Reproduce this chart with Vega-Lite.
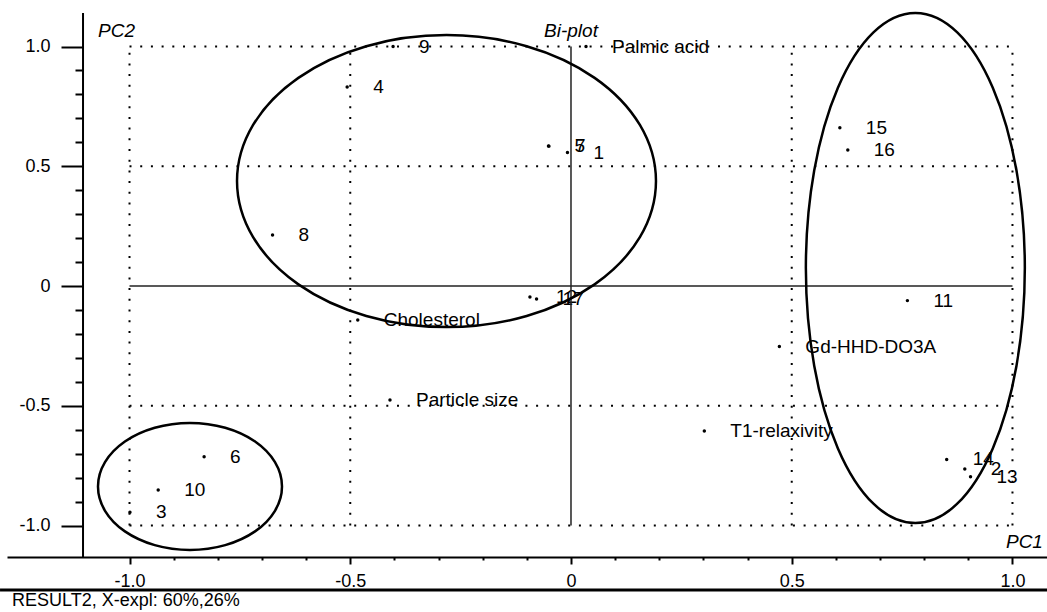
{
  "$schema": "https://vega.github.io/schema/vega-lite/v6.json",
  "width": 1040,
  "height": 577,
  "autosize": {"type": "none"},
  "padding": {"left": 7, "top": 13, "right": 0, "bottom": 22},
  "background": "white",
  "config": {
    "view": {"stroke": null},
    "font": "Liberation Sans",
    "text": {"font": "Liberation Sans", "fontSize": 19, "color": "black"}
  },
  "resolve": {"axis": {"x": "independent", "y": "independent"}},
  "datasets": {
    "pts": [
      {"label": "1", "pc1": -0.008, "pc2": 0.557},
      {"label": "2", "pc1": 0.892, "pc2": -0.764},
      {"label": "3", "pc1": -0.999, "pc2": -0.945},
      {"label": "4", "pc1": -0.507, "pc2": 0.831},
      {"label": "5", "pc1": -0.051, "pc2": 0.585},
      {"label": "6", "pc1": -0.831, "pc2": -0.713},
      {"label": "7", "pc1": -0.050, "pc2": 0.584},
      {"label": "8", "pc1": -0.676, "pc2": 0.213},
      {"label": "9", "pc1": -0.403, "pc2": 1.0},
      {"label": "10", "pc1": -0.935, "pc2": -0.852},
      {"label": "11", "pc1": 0.762, "pc2": -0.061},
      {"label": "12", "pc1": -0.093, "pc2": -0.046},
      {"label": "13", "pc1": 0.905, "pc2": -0.796},
      {"label": "14", "pc1": 0.851, "pc2": -0.724},
      {"label": "15", "pc1": 0.609, "pc2": 0.661},
      {"label": "16", "pc1": 0.627, "pc2": 0.568},
      {"label": "17", "pc1": -0.078, "pc2": -0.054},
      {"label": "Palmic acid", "pc1": 0.034, "pc2": 1.0},
      {"label": "Cholesterol", "pc1": -0.483, "pc2": -0.142},
      {"label": "Particle size", "pc1": -0.41, "pc2": -0.476},
      {"label": "Gd-HHD-DO3A", "pc1": 0.472, "pc2": -0.253},
      {"label": "T1-relaxivity", "pc1": 0.302, "pc2": -0.605}
    ],
    "grid": [
      {"x1": -1, "x2": 1, "y1": 1, "y2": 1},
      {"x1": -1, "x2": 1, "y1": 0.5, "y2": 0.5},
      {"x1": -1, "x2": 1, "y1": -0.5, "y2": -0.5},
      {"x1": -1, "x2": 1, "y1": -1, "y2": -1},
      {"x1": -1, "x2": -1, "y1": -1, "y2": 1},
      {"x1": -0.5, "x2": -0.5, "y1": -1, "y2": 1},
      {"x1": 0.5, "x2": 0.5, "y1": -1, "y2": 1},
      {"x1": 1, "x2": 1, "y1": -1, "y2": 1}
    ],
    "cross": [
      {"x1": -1, "x2": 1, "y1": 0, "y2": 0},
      {"x1": 0, "x2": 0, "y1": -1, "y2": 1}
    ],
    "yline": [
      {"x1": -1.1053, "y1": -1.1315, "y2": 1.1399}
    ],
    "frame": [
      {"x1": -1.2933, "x2": 1.0782, "y1": -1.2693}
    ],
    "ell": [
      {"g": "A", "i": 0, "x": 0.1925, "y": 0.438},
      {"g": "A", "i": 1, "x": 0.1564, "y": 0.6713},
      {"g": "A", "i": 2, "x": 0.0535, "y": 0.8691},
      {"g": "A", "i": 3, "x": -0.1004, "y": 1.0012},
      {"g": "A", "i": 4, "x": -0.282, "y": 1.0476},
      {"g": "A", "i": 5, "x": -0.4636, "y": 1.0012},
      {"g": "A", "i": 6, "x": -0.6175, "y": 0.8691},
      {"g": "A", "i": 7, "x": -0.7204, "y": 0.6713},
      {"g": "A", "i": 8, "x": -0.7565, "y": 0.438},
      {"g": "A", "i": 9, "x": -0.7204, "y": 0.2047},
      {"g": "A", "i": 10, "x": -0.6175, "y": 0.0069},
      {"g": "A", "i": 11, "x": -0.4636, "y": -0.1252},
      {"g": "A", "i": 12, "x": -0.282, "y": -0.1716},
      {"g": "A", "i": 13, "x": -0.1004, "y": -0.1252},
      {"g": "A", "i": 14, "x": 0.0535, "y": 0.0069},
      {"g": "A", "i": 15, "x": 0.1564, "y": 0.2047},
      {"g": "B", "i": 0, "x": 1.028, "y": 0.075},
      {"g": "B", "i": 1, "x": 1.0091, "y": 0.4826},
      {"g": "B", "i": 2, "x": 0.9554, "y": 0.8281},
      {"g": "B", "i": 3, "x": 0.8749, "y": 1.059},
      {"g": "B", "i": 4, "x": 0.78, "y": 1.14},
      {"g": "B", "i": 5, "x": 0.6851, "y": 1.059},
      {"g": "B", "i": 6, "x": 0.6046, "y": 0.8281},
      {"g": "B", "i": 7, "x": 0.5509, "y": 0.4826},
      {"g": "B", "i": 8, "x": 0.532, "y": 0.075},
      {"g": "B", "i": 9, "x": 0.5509, "y": -0.3326},
      {"g": "B", "i": 10, "x": 0.6046, "y": -0.6781},
      {"g": "B", "i": 11, "x": 0.6851, "y": -0.909},
      {"g": "B", "i": 12, "x": 0.78, "y": -0.99},
      {"g": "B", "i": 13, "x": 0.8749, "y": -0.909},
      {"g": "B", "i": 14, "x": 0.9554, "y": -0.6781},
      {"g": "B", "i": 15, "x": 1.0091, "y": -0.3326},
      {"g": "C", "i": 0, "x": -0.6546, "y": -0.837},
      {"g": "C", "i": 1, "x": -0.6705, "y": -0.7355},
      {"g": "C", "i": 2, "x": -0.7156, "y": -0.6495},
      {"g": "C", "i": 3, "x": -0.7832, "y": -0.5921},
      {"g": "C", "i": 4, "x": -0.863, "y": -0.5719},
      {"g": "C", "i": 5, "x": -0.9428, "y": -0.5921},
      {"g": "C", "i": 6, "x": -1.0104, "y": -0.6495},
      {"g": "C", "i": 7, "x": -1.0555, "y": -0.7355},
      {"g": "C", "i": 8, "x": -1.0714, "y": -0.837},
      {"g": "C", "i": 9, "x": -1.0555, "y": -0.9385},
      {"g": "C", "i": 10, "x": -1.0104, "y": -1.0245},
      {"g": "C", "i": 11, "x": -0.9428, "y": -1.0819},
      {"g": "C", "i": 12, "x": -0.863, "y": -1.1021},
      {"g": "C", "i": 13, "x": -0.7832, "y": -1.0819},
      {"g": "C", "i": 14, "x": -0.7156, "y": -1.0245},
      {"g": "C", "i": 15, "x": -0.6705, "y": -0.9385}
    ]
  },
  "layer": [
    {
      "data": {"name": "pts"},
      "mark": {"type": "point", "filled": true, "size": 12, "color": "black", "opacity": 1},
      "encoding": {
        "x": {
          "field": "pc1", "type": "quantitative",
          "scale": {"domain": [-1.2775, 1.0782], "nice": false, "zero": false},
          "axis": {
            "orient": "bottom",
            "title": null,
            "grid": false,
            "offset": -33,
            "values": [-1, -0.5, 0, 0.5, 1],
            "domainColor": "black", "domainWidth": 2,
            "tickColor": "black", "tickWidth": 2, "tickSize": 7,
            "labelExpr": "abs(datum.value) < 0.001 ? '0' : (datum.value < 0 ? '-' : '') + format(abs(datum.value), '.1f')",
            "labelFont": "Liberation Sans", "labelFontSize": 18, "labelColor": "black",
            "labelPadding": 8, "labelFlush": false, "labelOverlap": false
          }
        },
        "y": {
          "field": "pc2", "type": "quantitative",
          "scale": {"domain": [-1.2693, 1.1399], "nice": false, "zero": false},
          "axis": {
            "orient": "left",
            "title": null,
            "grid": false,
            "offset": -76,
            "domain": false,
            "values": [-1, -0.5, 0, 0.5, 1],
            "tickColor": "black", "tickWidth": 2, "tickSize": 22,
            "labelExpr": "abs(datum.value) < 0.001 ? '0' : (datum.value < 0 ? '-' : '') + format(abs(datum.value), '.1f')",
            "labelFont": "Liberation Sans", "labelFontSize": 18, "labelColor": "black",
            "labelPadding": 11, "labelFlush": false, "labelOverlap": false
          }
        }
      }
    },
    {
      "data": {"name": "pts"},
      "mark": {"type": "text", "align": "left", "baseline": "middle", "dx": 26, "fontSize": 19},
      "encoding": {
        "x": {
          "field": "pc1", "type": "quantitative",
          "axis": {
            "orient": "bottom", "title": null, "grid": false, "domain": false, "labels": false,
            "offset": -33,
            "values": [-0.9, -0.8, -0.7, -0.6, -0.4, -0.3, -0.2, -0.1, 0.1, 0.2, 0.3, 0.4, 0.6, 0.7, 0.8, 0.9],
            "tickColor": "black", "tickWidth": 2, "tickSize": 3
          }
        },
        "y": {
          "field": "pc2", "type": "quantitative",
          "axis": {
            "orient": "left", "title": null, "grid": false, "domain": false, "labels": false,
            "offset": -76,
            "values": [-0.9, -0.8, -0.7, -0.6, -0.4, -0.3, -0.2, -0.1, 0.1, 0.2, 0.3, 0.4, 0.6, 0.7, 0.8, 0.9],
            "tickColor": "black", "tickWidth": 2, "tickSize": 8
          }
        },
        "text": {"field": "label"}
      }
    },
    {
      "data": {"name": "grid"},
      "mark": {"type": "rule", "color": "black", "strokeWidth": 2, "strokeDash": [2, 8.7]},
      "encoding": {
        "x": {"field": "x1", "type": "quantitative", "axis": null},
        "x2": {"field": "x2"},
        "y": {"field": "y1", "type": "quantitative", "axis": null},
        "y2": {"field": "y2"}
      }
    },
    {
      "data": {"name": "cross"},
      "mark": {"type": "rule", "color": "#222222", "strokeWidth": 1.5},
      "encoding": {
        "x": {"field": "x1", "type": "quantitative", "axis": null},
        "x2": {"field": "x2"},
        "y": {"field": "y1", "type": "quantitative", "axis": null},
        "y2": {"field": "y2"}
      }
    },
    {
      "data": {"name": "yline"},
      "mark": {"type": "rule", "color": "black", "strokeWidth": 2},
      "encoding": {
        "x": {"field": "x1", "type": "quantitative", "axis": null},
        "y": {"field": "y1", "type": "quantitative", "axis": null},
        "y2": {"field": "y2"}
      }
    },
    {
      "data": {"name": "frame"},
      "mark": {"type": "rule", "color": "black", "strokeWidth": 3, "clip": false},
      "encoding": {
        "x": {"field": "x1", "type": "quantitative", "axis": null},
        "x2": {"field": "x2"},
        "y": {"field": "y1", "type": "quantitative", "axis": null}
      }
    },
    {
      "data": {"name": "ell"},
      "mark": {"type": "line", "interpolate": "cardinal-closed", "color": "black", "strokeWidth": 2.5, "clip": false},
      "encoding": {
        "x": {"field": "x", "type": "quantitative", "axis": null},
        "y": {"field": "y", "type": "quantitative", "axis": null},
        "detail": {"field": "g"},
        "order": {"field": "i", "type": "quantitative"}
      }
    },
    {
      "data": {"values": [{}]},
      "mark": {"type": "text", "text": "PC2", "align": "left", "baseline": "alphabetic", "fontStyle": "italic", "fontSize": 19},
      "encoding": {
        "x": {"datum": -1.0713, "type": "quantitative", "axis": null},
        "y": {"datum": 1.0397, "type": "quantitative", "axis": null}
      }
    },
    {
      "data": {"values": [{}]},
      "mark": {"type": "text", "text": "Bi-plot", "align": "center", "baseline": "alphabetic", "fontStyle": "italic", "fontSize": 19},
      "encoding": {
        "x": {"datum": 0, "type": "quantitative", "axis": null},
        "y": {"datum": 1.0397, "type": "quantitative", "axis": null}
      }
    },
    {
      "data": {"values": [{}]},
      "mark": {"type": "text", "text": "PC1", "align": "right", "baseline": "alphabetic", "fontStyle": "italic", "fontSize": 19},
      "encoding": {
        "x": {"datum": 1.069, "type": "quantitative", "axis": null},
        "y": {"datum": -1.094, "type": "quantitative", "axis": null}
      }
    },
    {
      "data": {"values": [{}]},
      "mark": {"type": "text", "text": "RESULT2, X-expl: 60%,26%", "align": "left", "baseline": "alphabetic", "fontSize": 18, "clip": false},
      "encoding": {
        "x": {"datum": -1.266, "type": "quantitative", "axis": null},
        "y": {"datum": -1.336, "type": "quantitative", "axis": null}
      }
    }
  ]
}
